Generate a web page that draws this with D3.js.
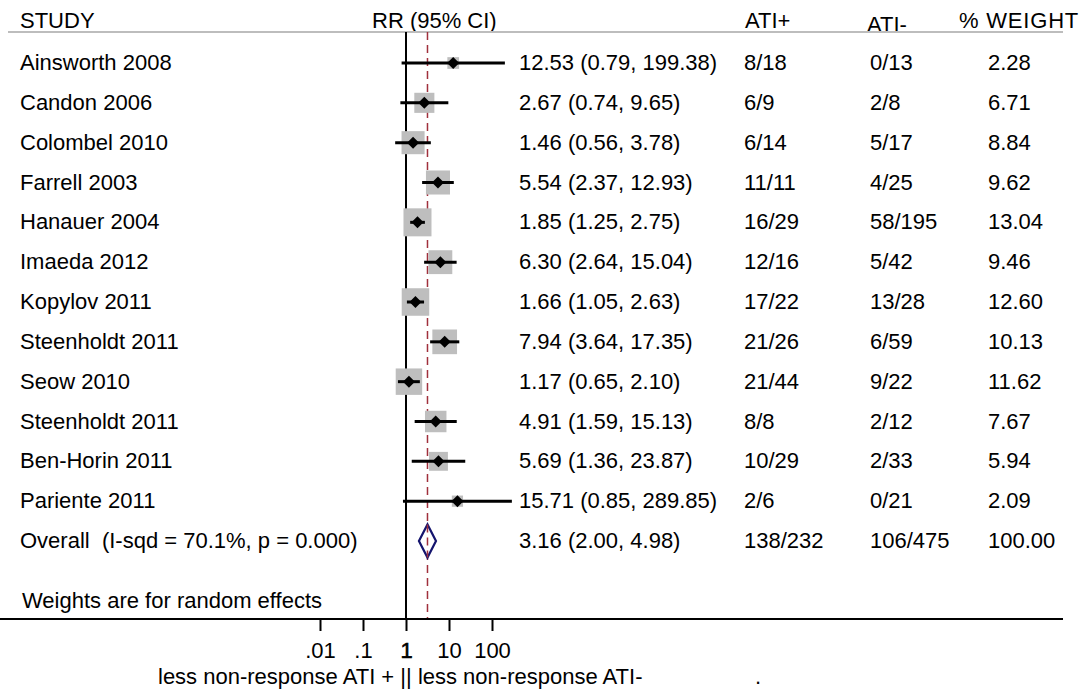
<!DOCTYPE html>
<html>
<head>
	<meta charset="utf-8">
	<title>Forest plot</title>
	<script type="text/javascript" src="https://cdn.jsdelivr.net/npm/d3@7"></script>
	<style>
		body {
			margin: 0;
			background: #fff;
			font-family: "Liberation Sans", Arial, Helvetica, sans-serif;
		}
		text {
			white-space: pre;
		}
	</style>
</head>

<body>

	<div id="chart"></div>

	<script>

	// data

	const studies = ["Ainsworth 2008", "Candon 2006", "Colombel 2010", "Farrell 2003", "Hanauer 2004",
		"Imaeda 2012", "Kopylov 2011", "Steenholdt 2011", "Seow 2010", "Steenholdt 2011",
		"Ben-Horin 2011", "Pariente 2011"];
	const rr      = [12.53, 2.67, 1.46, 5.54, 1.85, 6.30, 1.66, 7.94, 1.17, 4.91, 5.69, 15.71];
	const lower   = [0.79, 0.74, 0.56, 2.37, 1.25, 2.64, 1.05, 3.64, 0.65, 1.59, 1.36, 0.85];
	const upper   = [199.38, 9.65, 3.78, 12.93, 2.75, 15.04, 2.63, 17.35, 2.10, 15.13, 23.87, 289.85];
	const atiPos  = ["8/18", "6/9", "6/14", "11/11", "16/29", "12/16", "17/22", "21/26", "21/44", "8/8", "10/29", "2/6"];
	const atiNeg  = ["0/13", "2/8", "5/17", "4/25", "58/195", "5/42", "13/28", "6/59", "9/22", "2/12", "2/33", "0/21"];
	const weights = [2.28, 6.71, 8.84, 9.62, 13.04, 9.46, 12.60, 10.13, 11.62, 7.67, 5.94, 2.09];

	const overallLabel = "Overall  (I-sqd = 70.1%, p = 0.000)";
	const overallRR = [3.16, 2.00, 4.98];
	const overallPos = "138/232";
	const overallNeg = "106/475";
	const overallWeight = "100.00";

	const tickValues = [0.01, 0.1, 1, 10, 100];
	const tickLabels = [".01", ".1", "1", "10", "100"];

	// layout

	const width    = 1086;
	const height   = 689;
	const fontSize = 22;
	const fmt = d3.format(".2f");

	const svg = d3.select("#chart")
		.append("svg")
		.attr("width", width)
		.attr("height", height)
		.attr("font-family", "'Liberation Sans', Arial, sans-serif")
		.attr("font-size", fontSize)
		.attr("fill", "#000");

	const x = d3.scaleLog().domain([0.01, 100]).range([320, 492]);
	const y = d3.scaleLinear().domain([0, 12]).range([63, 541]);
	const side = d3.scaleSqrt().domain([0, 13.04]).range([0, 28]);

	const headerY = 32, axisY = 619;
	const textDy = 7;

	// header
	const header = svg.append("g");
	header.append("text").attr("x", 20).attr("y", 28).text("STUDY");
	header.append("text").attr("x", 372).attr("y", 28).text("RR (95% CI)");
	header.append("text").attr("x", 745).attr("y", 28).text("ATI+");
	header.append("text").attr("x", 867).attr("y", 32).text("ATI-");
	header.append("text").attr("x", 959).attr("y", 28).attr("letter-spacing", 0.8).text("% WEIGHT");

	svg.append("line")
		.attr("x1", 8).attr("x2", 1063)
		.attr("y1", headerY).attr("y2", headerY)
		.attr("stroke", "#bdbdbd")
		.attr("stroke-width", 2);

	// reference lines
	svg.append("line")
		.attr("x1", x(1)).attr("x2", x(1))
		.attr("y1", headerY).attr("y2", axisY)
		.attr("stroke", "#000")
		.attr("stroke-width", 2);

	svg.append("line")
		.attr("x1", x(overallRR[0])).attr("x2", x(overallRR[0]))
		.attr("y1", headerY).attr("y2", axisY)
		.attr("stroke", "#a0303c")
		.attr("stroke-width", 1.5)
		.attr("stroke-dasharray", "8,5");

	// study rows
	const rows = svg.append("g")
		.selectAll("g")
		.data(d3.range(studies.length))
		.join("g");

	rows.append("rect")
		.attr("x", i => x(rr[i]) - side(weights[i]) / 2)
		.attr("y", i => y(i) - side(weights[i]) / 2)
		.attr("width", i => side(weights[i]))
		.attr("height", i => side(weights[i]))
		.attr("fill", "#bebebe");

	rows.append("line")
		.attr("x1", i => x(lower[i]))
		.attr("x2", i => x(upper[i]))
		.attr("y1", i => y(i))
		.attr("y2", i => y(i))
		.attr("stroke", "#000")
		.attr("stroke-width", 3);

	rows.append("path")
		.attr("d", i => `M${x(rr[i]) - 6},${y(i)}L${x(rr[i])},${y(i) - 6}L${x(rr[i]) + 6},${y(i)}L${x(rr[i])},${y(i) + 6}Z`)
		.attr("fill", "#000");

	rows.append("text").attr("x", 20).attr("y", i => y(i) + textDy).text(i => studies[i]);
	rows.append("text").attr("x", 519).attr("y", i => y(i) + textDy)
		.text(i => `${fmt(rr[i])} (${fmt(lower[i])}, ${fmt(upper[i])})`);
	rows.append("text").attr("x", 744).attr("y", i => y(i) + textDy).text(i => atiPos[i]);
	rows.append("text").attr("x", 870).attr("y", i => y(i) + textDy).text(i => atiNeg[i]);
	rows.append("text").attr("x", 988).attr("y", i => y(i) + textDy).text(i => fmt(weights[i]));

	// overall
	const oy = y(12);
	svg.append("path")
		.attr("d", `M${x(overallRR[1])},${oy}L${x(overallRR[0])},${oy - 16.5}L${x(overallRR[2])},${oy}L${x(overallRR[0])},${oy + 16.5}Z`)
		.attr("fill", "#fff")
		.attr("stroke", "#14146e")
		.attr("stroke-width", 2.2);

	svg.append("line")
		.attr("x1", x(overallRR[0])).attr("x2", x(overallRR[0]))
		.attr("y1", oy - 16.5).attr("y2", oy + 16.5)
		.attr("stroke", "#a0303c")
		.attr("stroke-width", 1.5)
		.attr("stroke-dasharray", "8,5");

	const orow = svg.append("g");
	orow.append("text").attr("x", 20).attr("y", oy + textDy).text(overallLabel);
	orow.append("text").attr("x", 519).attr("y", oy + textDy)
		.text(`${fmt(overallRR[0])} (${fmt(overallRR[1])}, ${fmt(overallRR[2])})`);
	orow.append("text").attr("x", 744).attr("y", oy + textDy).text(overallPos);
	orow.append("text").attr("x", 870).attr("y", oy + textDy).text(overallNeg);
	orow.append("text").attr("x", 988).attr("y", oy + textDy).text(overallWeight);

	svg.append("text")
		.attr("x", 22).attr("y", 608)
		.text("Weights are for random effects");

	// axis
	svg.append("line")
		.attr("x1", 0).attr("x2", 1063)
		.attr("y1", axisY).attr("y2", axisY)
		.attr("stroke", "#000")
		.attr("stroke-width", 2);

	const axis = svg.append("g")
		.attr("transform", `translate(0,${axisY})`)
		.call(d3.axisBottom(x)
			.tickValues(tickValues)
			.tickSize(12)
			.tickPadding(11)
			.tickFormat((d, i) => tickLabels[i]));

	axis.select(".domain").remove();
	axis.selectAll(".tick line").attr("stroke", "#000").attr("stroke-width", 2);
	axis.selectAll(".tick text")
		.attr("font-size", fontSize)
		.attr("font-family", "'Liberation Sans', Arial, sans-serif")
		.attr("fill", "#000")
		.attr("stroke", d => d === 1 ? "#000" : null)
		.attr("stroke-width", d => d === 1 ? 0.6 : null);

	svg.append("text")
		.attr("x", 158).attr("y", 684)
		.text("less non-response ATI + || less non-response ATI-");
	svg.append("text")
		.attr("x", 755).attr("y", 684)
		.text(".");

	</script>

</body>

</html>
